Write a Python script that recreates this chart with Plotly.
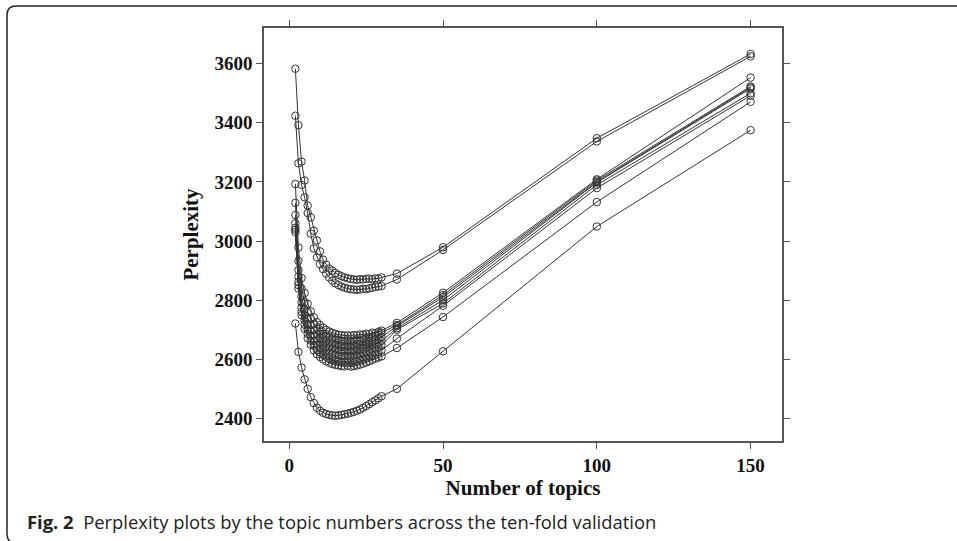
import plotly.graph_objects as go

topics = list(range(2, 31)) + [35, 50, 100, 150]

fold_1 = [3583, 3392, 3269, 3205, 3120, 3080, 3035, 3002, 2965, 2937, 2920, 2907, 2900, 2892, 2886,
          2881, 2877, 2874, 2872, 2870, 2869, 2871, 2870, 2872, 2873, 2871, 2874, 2873, 2877,
          2890, 2979, 3348, 3633]
fold_2 = [3424, 3263, 3190, 3148, 3095, 3025, 2975, 2945, 2922, 2905, 2890, 2877, 2866, 2857, 2851,
          2846, 2842, 2839, 2837, 2836, 2835, 2836, 2838, 2837, 2840, 2842, 2845, 2846, 2848,
          2870, 2970, 3337, 3625]
fold_3 = [3193, 2978, 2875, 2824, 2788, 2762, 2742, 2726, 2716, 2707, 2699, 2694, 2689, 2686, 2683,
          2682, 2680, 2681, 2679, 2682, 2681, 2684, 2683, 2687, 2685, 2690, 2688, 2693, 2697,
          2723, 2825, 3209, 3553]
fold_4 = [3129, 2933, 2839, 2793, 2760, 2737, 2718, 2704, 2695, 2686, 2680, 2675, 2670, 2667, 2665,
          2663, 2662, 2664, 2661, 2663, 2665, 2663, 2667, 2670, 2672, 2675, 2680, 2684, 2690,
          2716, 2817, 3205, 3523]
fold_5 = [3088, 2902, 2813, 2769, 2738, 2716, 2698, 2685, 2676, 2668, 2662, 2657, 2653, 2650, 2648,
          2646, 2645, 2647, 2644, 2646, 2648, 2650, 2649, 2653, 2657, 2660, 2665, 2668, 2675,
          2712, 2810, 3200, 3520]
fold_6 = [3060, 2879, 2792, 2749, 2719, 2697, 2680, 2667, 2658, 2650, 2644, 2640, 2636, 2633, 2631,
          2629, 2628, 2630, 2627, 2629, 2631, 2634, 2636, 2640, 2643, 2647, 2652, 2656, 2662,
          2705, 2800, 3198, 3516]
fold_7 = [3045, 2862, 2775, 2732, 2701, 2680, 2662, 2649, 2640, 2633, 2627, 2622, 2618, 2615, 2613,
          2611, 2610, 2612, 2609, 2612, 2614, 2617, 2620, 2624, 2628, 2633, 2637, 2642, 2648,
          2700, 2789, 3190, 3500]
fold_8 = [3038, 2851, 2761, 2717, 2686, 2663, 2646, 2632, 2623, 2615, 2609, 2604, 2600, 2597, 2595,
          2593, 2592, 2594, 2591, 2594, 2596, 2599, 2602, 2606, 2610, 2614, 2619, 2624, 2630,
          2670, 2781, 3179, 3492]
fold_9 = [3030, 2839, 2749, 2703, 2671, 2649, 2630, 2617, 2608, 2600, 2593, 2588, 2584, 2581, 2579,
          2577, 2576, 2578, 2575, 2577, 2579, 2582, 2585, 2589, 2593, 2598, 2602, 2606, 2610,
          2638, 2743, 3132, 3471]
fold_10 = [2721, 2625, 2572, 2532, 2500, 2472, 2452, 2436, 2426, 2419, 2415, 2412, 2410, 2409, 2410,
           2412, 2414, 2416, 2419, 2422, 2426, 2430, 2436, 2442, 2448, 2455, 2461, 2468, 2475,
           2500, 2627, 3049, 3375]

folds = [fold_1, fold_2, fold_3, fold_4, fold_5, fold_6, fold_7, fold_8, fold_9, fold_10]

x_ticks = [0, 50, 100, 150]
y_ticks = [2400, 2600, 2800, 3000, 3200, 3400, 3600]

caption_bold = "Fig. 2"
caption_text = "Perplexity plots by the topic numbers across the ten-fold validation"

fig = go.Figure()
for i, vals in enumerate(folds):
    fig.add_trace(go.Scatter(
        x=topics, y=vals, mode="lines+markers",
        line=dict(color="#333333", width=1),
        marker=dict(symbol="circle-open", size=7.5, color="#333333", line=dict(width=1)),
        name=f"Fold {i+1}", showlegend=False,
    ))

W, H = 957, 541
L, R, T, B = 264, 175, 28, 100
pw, ph = W - L - R, H - T - B

def px(xp):
    return (xp - L) / pw

def py(yp):
    return (H - B - yp) / ph

serif = "Liberation Serif, Times New Roman, serif"

axis_common = dict(
    showline=True, linecolor="#555555", linewidth=1.5, mirror="ticks",
    ticks="outside", ticklen=6, tickwidth=1.2, tickcolor="#555555",
    showgrid=False, zeroline=False,
    tickfont=dict(family=serif, size=19, color="#111111", weight="bold"),
)

fig.update_xaxes(range=[-8.2, 160.2], tickvals=x_ticks,
                 title=dict(text="Number of topics", standoff=6,
                            font=dict(family=serif, size=21, color="#111111", weight="bold")),
                 **axis_common)
fig.update_yaxes(range=[2323.5, 3720.8], tickvals=y_ticks,
                 title=dict(text="Perplexity", standoff=10,
                            font=dict(family=serif, size=21, color="#111111", weight="bold")),
                 **axis_common)

# frame with rounded left corners
x0 = px(7)
xr = px(W + 5)
yt = py(6)
yb = py(543)
rx = 9 / pw
ry = 9 / ph
path = (f"M {xr},{yt} L {x0+rx},{yt} Q {x0},{yt} {x0},{yt-ry} "
        f"L {x0},{yb+ry} Q {x0},{yb} {x0+rx},{yb} L {xr},{yb}")
fig.add_shape(type="path", path=path, xref="paper", yref="paper",
              line=dict(color="#222222", width=1.5))

fig.add_annotation(
    x=px(25), y=py(521), xref="paper", yref="paper", xanchor="left", yanchor="middle",
    showarrow=False,
    text=f"<b>{caption_bold}</b>\u00a0\u00a0{caption_text}",
    font=dict(family="Open Sans, Noto Sans, sans-serif", size=18.4, color="#222222"),
)

fig.update_layout(
    width=W, height=H,
    margin=dict(l=L, r=R, t=T, b=B, autoexpand=False),
    plot_bgcolor="white", paper_bgcolor="white",
)

fig.write_html("out.html", config={"displayModeBar": False},
               post_script="document.body.style.margin='0px';")
